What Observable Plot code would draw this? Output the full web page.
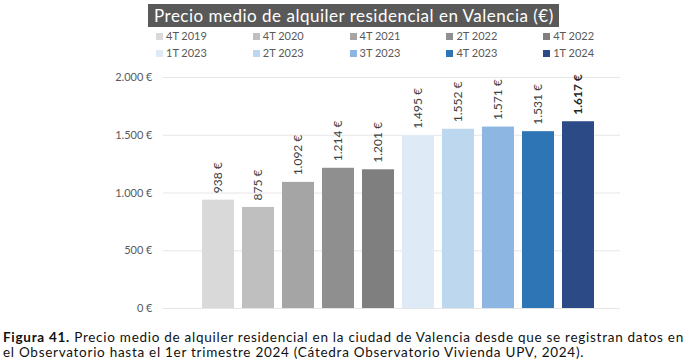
<!DOCTYPE html>
<html><head><meta charset="utf-8">
<script src="https://cdn.jsdelivr.net/npm/d3@7"></script>
<script src="https://cdn.jsdelivr.net/npm/@observablehq/plot@0.6"></script>
<style>
body{margin:0;background:#fff;}
#wrap{position:relative;width:686px;height:363px;overflow:hidden;font-family:Lato, "Open Sans", sans-serif;}
#title{position:absolute;left:148px;top:4px;width:411px;height:23px;background:#595959;color:#fff;font-size:17px;letter-spacing:0.5px;line-height:23px;padding-left:6px;box-sizing:border-box;white-space:nowrap;}
.li{position:absolute;font-size:11px;color:#595959;white-space:nowrap;line-height:13px;}
.sw{display:inline-block;width:7px;height:7px;margin-right:3px;vertical-align:0px;}
#chart{position:absolute;left:0;top:60px;}
#caption{position:absolute;left:3px;top:330px;font-size:13.5px;line-height:15px;color:#111;white-space:nowrap;}
#caption span{display:inline-block;}
</style></head>
<body><div id="wrap">
<div id="title"></div>
<div id="legend"></div>
<div id="chart"></div>
<div id="caption"></div>
</div>
<script>
const titleText = "Precio medio de alquiler residencial en Valencia (€)";
const periods = ["4T 2019","4T 2020","4T 2021","2T 2022","4T 2022","1T 2023","2T 2023","3T 2023","4T 2023","1T 2024"];
const prices = [938, 875, 1092, 1214, 1201, 1495, 1552, 1571, 1531, 1617];
const colors = ["#d9d9d9","#bfbfbf","#a5a5a5","#8f8f8f","#7f7f7f","#deeaf6","#bdd7ee","#8db6e2","#2e75b6","#2c4a86"];
const yTicks = [0, 500, 1000, 1500, 2000];
const captionBold = "Figura 41.";
const captionLine1 = " Precio medio de alquiler residencial en la ciudad de Valencia desde que se registran datos en";
const captionLine2 = "el Observatorio hasta el 1er trimestre 2024 (Cátedra Observatorio Vivienda UPV, 2024).";

document.getElementById("title").textContent = titleText;
const cap = document.getElementById("caption");
const l1 = document.createElement("span");
const b = document.createElement("b"); b.textContent = captionBold; l1.appendChild(b);
l1.appendChild(document.createTextNode(captionLine1));
const l2 = document.createElement("span"); l2.textContent = captionLine2;
cap.appendChild(l1); cap.appendChild(document.createElement("br")); cap.appendChild(l2);
// stretch line 1 to the full caption width, and give line 2 the same spacing
const n1 = (captionBold + captionLine1).length;
const ls = (681 - l1.getBoundingClientRect().width) / n1;
cap.style.letterSpacing = ls + "px";

// legend: 2 rows x 5 columns
const leg = document.getElementById("legend");
periods.forEach((p, i) => {
  const col = i % 5, row = Math.floor(i / 5);
  const d = document.createElement("div");
  d.className = "li";
  d.style.left = (156 + col * 96.8) + "px";
  d.style.top = (28.5 + row * 17) + "px";
  const s = document.createElement("span"); s.className = "sw"; s.style.background = colors[i];
  d.appendChild(s); d.appendChild(document.createTextNode(p));
  leg.appendChild(d);
});

const data = periods.map((p, i) => ({period: p, price: prices[i], color: colors[i]}));
const last = periods[periods.length - 1];
const fmt = v => d3.format(",")(v).replace(/,/g, ".") + " €";

const chart = Plot.plot({
  width: 686, height: 255,
  marginLeft: 163, marginRight: 66, marginTop: 17, marginBottom: 7,
  x: {domain: periods, range: [198, 598], paddingInner: 0.19, paddingOuter: 0, axis: null},
  y: {domain: [0, 2000], label: null},
  color: {type: "identity"},
  style: {fontFamily: "Lato, 'Open Sans', sans-serif", fontSize: "11px", color: "#595959", background: "transparent"},
  marks: [
    Plot.gridY(yTicks, {stroke: "#e6e6e6", strokeOpacity: 1}),
    Plot.axisY(yTicks, {tickSize: 0, tickPadding: 11, tickFormat: fmt, fill: "#595959", fontSize: 11, label: null}),
    Plot.barY(data, {x: "period", y: "price", fill: "color"}),
    Plot.text(data.filter(d => d.period !== last), {x: "period", y: "price", text: d => fmt(d.price), rotate: -90, textAnchor: "start", dy: -7, fill: "#404040", fontSize: 12}),
    Plot.text(data.filter(d => d.period === last), {x: "period", y: "price", text: d => fmt(d.price), rotate: -90, textAnchor: "start", dy: -7, fill: "#262626", fontSize: 12, fontWeight: "bold"})
  ]
});
document.getElementById("chart").appendChild(chart);
</script>
</body></html>
